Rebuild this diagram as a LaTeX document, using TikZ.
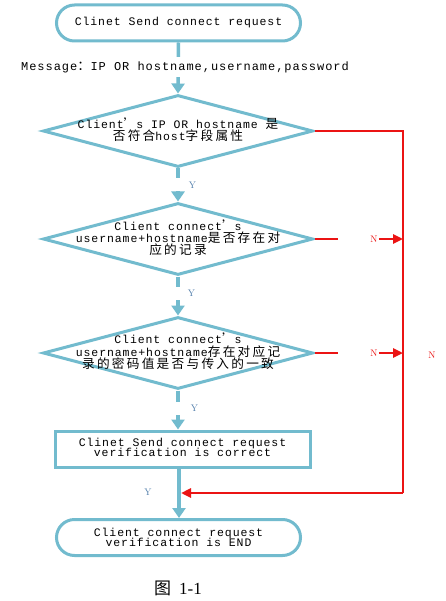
\documentclass[tikz,border=0pt]{standalone}
\usepackage{fontspec}
\usetikzlibrary{shapes.geometric,shapes.misc,arrows.meta}
\newfontfamily\monof[LetterSpace=8]{Liberation Mono}
\newfontfamily\cjkfont[Scale=1.1,LetterSpace=18]{Noto Sans CJK SC}
\newfontfamily\capcjk{Noto Sans CJK SC}
\newfontfamily\capserif{Liberation Serif}
\newcommand{\zh}[1]{{\cjkfont #1}}
\definecolor{flowblue}{RGB}{114,187,206}
\definecolor{labblue}{RGB}{80,125,170}
\definecolor{flowred}{RGB}{235,20,20}
\tikzset{
  term/.style={draw=flowblue, line width=3pt, rounded rectangle, minimum width=244pt, minimum height=36pt, inner sep=0pt, font=\monof\fontsize{11.5}{12.5}\selectfont, align=center},
  dia/.style={draw=flowblue, line width=3pt, diamond, minimum width=270pt, minimum height=72pt, inner sep=0pt, font=\monof\fontsize{11.5}{12.5}\selectfont},
  procbox/.style={draw=flowblue, line width=3pt, rectangle, minimum width=255pt, minimum height=36pt, inner sep=0pt, font=\monof\fontsize{11.5}{12.5}\selectfont, align=center},
  bluearrow/.style={draw=flowblue, line width=3.5pt, -{Triangle[length=10pt,width=13pt]}},
  redline/.style={draw=flowred, line width=2.5pt},
  redarrow/.style={draw=flowred, line width=2.5pt, -{Triangle[length=10pt,width=9pt]}},
  ylab/.style={text=labblue, font=\fontsize{9.5}{10}\selectfont, inner sep=0pt},
  nlab/.style={text=flowred, font=\fontsize{9.5}{10}\selectfont, inner sep=0pt},
}
\newcommand{\diatext}[1]{\makebox[0pt]{\smash{\raisebox{-3pt}{\begin{tabular}{@{}c@{}}#1\end{tabular}}}}}
\begin{document}
\begin{tikzpicture}[x=1pt,y=-1pt]
\useasboundingbox (0,0) rectangle (445,601);
\fill[white] (0,0) rectangle (445,601);

\node[term] (start) at (178.5,23) {Clinet Send connect request};
\node[dia] (d1) at (178,131) {\diatext{Client\zh{’}s IP OR hostname \zh{是}\\[-2pt]\zh{否符合}host\zh{字段属性}}};
\node[dia] (d2) at (178,239) {\diatext{Client connect\zh{’}s\\[-2pt]username+hostname\zh{是否存在对}\\[-2pt]\zh{应的记录}}};
\node[dia] (d3) at (178,353) {\diatext{Client connect\zh{’}s\\[-2pt]username+hostname\zh{存在对应记}\\[-2pt]\zh{录的密码值是否与传入的一致}}};
\node[procbox] (ok) at (182.5,449) {\raisebox{3pt}{\begin{tabular}{@{}c@{}}Clinet Send connect request\\[-2pt]verification is correct\end{tabular}}};
\node[term] (fin) at (178.5,537.5) {Client connect request\\[-2pt]verification is END};

% blue flow arrows
\draw[bluearrow] (start.south) -- (d1.north);
\node[fill=white, inner xsep=2pt, inner ysep=4pt, font=\monof\fontsize{12}{12.5}\selectfont] (msg) at (185,67) {Message\zh{：}IP OR hostname,username,password};
\draw[bluearrow] (d1.south) -- (d2.north);
\node[ylab, fill=white, text width=24pt, align=right, minimum height=13pt] (y1) at (184,185) {Y};
\draw[bluearrow] (d2.south) -- (d3.north);
\node[ylab, fill=white, text width=24pt, align=right, minimum height=13pt] (y2) at (183,293) {Y};
\draw[bluearrow] (d3.south) -- (d3.south |- ok.north);
\node[ylab, fill=white, text width=24pt, align=right, minimum height=13pt] (y3) at (186,408) {Y};
\coordinate (okbot) at (179,467);
\draw[bluearrow] (okbot) -- (fin.north -| okbot);
\node[ylab] (y4) at (148,492) {Y};

% red no-branches
\coordinate (rc1) at (403,131);
\coordinate (rc2) at (403,493);
\coordinate (join) at (181,493);
\draw[redline] (d1.east) -- (rc1) -- (rc2);
\draw[redarrow] (rc2) -- (join);

\coordinate (s2) at (338,239);
\coordinate (s3) at (338,353);
\draw[redline] (d2.east) -- (s2);
\draw[redline] (d3.east) -- (s3);
\node[nlab] (n2) at (374,239) {N};
\node[nlab] (n3) at (374,353) {N};
\draw[redarrow] (n2.east) ++(1,0) -- (rc1 |- n2);
\draw[redarrow] (n3.east) ++(1,0) -- (rc1 |- n3);
\node[nlab] (n4) at (432,355) {N};

% caption
\node[font=\fontsize{17}{18}\selectfont] (cap) at (178,588) {{\capcjk 图}\hspace{8pt}{\capserif 1-1}};
\end{tikzpicture}
\end{document}
